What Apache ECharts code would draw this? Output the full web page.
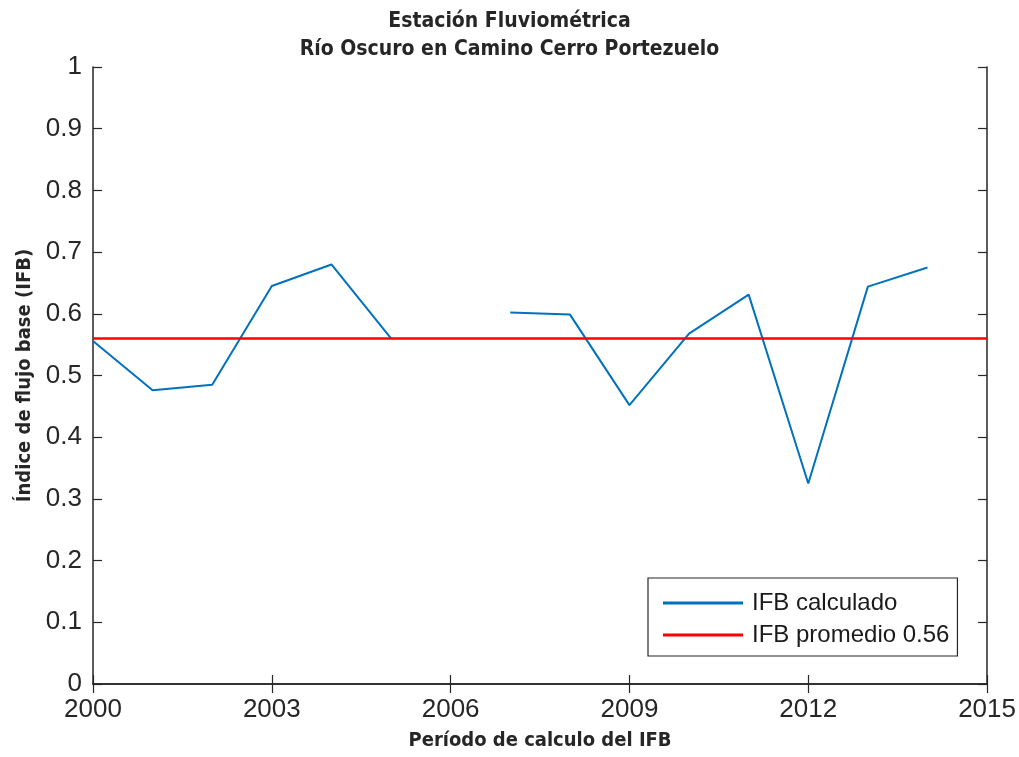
<!DOCTYPE html>
<html>
<head>
<meta charset="utf-8">
<script src="https://cdn.jsdelivr.net/npm/echarts@6/dist/echarts.min.js"></script>
<style>
  html, body { margin: 0; padding: 0; background: #fff; }
  #chart { width: 1019px; height: 757px; }
</style>
</head>
<body>
<div id="chart"></div>
<script>
  // años y valores de IFB (2006 sin dato)
  const years = [2000, 2001, 2002, 2003, 2004, 2005, 2006, 2007, 2008, 2009, 2010, 2011, 2012, 2013, 2014];
  const ifbValues = [0.556, 0.476, 0.485, 0.645, 0.680, 0.560, null, 0.602, 0.599, 0.452, 0.568, 0.631, 0.325, 0.644, 0.675];
  const ifbMean = 0.56;
  const meanRange = [2000, 2015];
  const xTicks = [2000, 2003, 2006, 2009, 2012, 2015];
  const yTicks = [0, 0.1, 0.2, 0.3, 0.4, 0.5, 0.6, 0.7, 0.8, 0.9, 1];

  const chart = echarts.init(document.getElementById('chart'));

  const axisLine = { show: true, lineStyle: { color: '#262626', width: 1.5 } };
  const tickStyle = { show: true, inside: true, length: 9, lineStyle: { color: '#262626', width: 1.2 } };
  const labelFont = { color: '#262626', fontSize: 26, fontFamily: 'Liberation Sans, Arial, sans-serif' };
  const nameFont = { color: '#262626', fontSize: 20, fontWeight: 'bold', fontFamily: 'DejaVu Sans Condensed, Open Sans, sans-serif' };

  const option = {
    animation: false,
    title: {
      text: 'Estación Fluviométrica\nRío Oscuro en Camino Cerro Portezuelo',
      left: 'center',
      top: 3,
      textStyle: { color: '#262626', fontSize: 21, fontWeight: 'bold', lineHeight: 28, fontFamily: 'DejaVu Sans Condensed, Open Sans, sans-serif' },
    },
    grid: { left: 93, right: 29, top: 67, bottom: 73 },
    legend: {
      left: 648,
      top: 578,
      orient: 'vertical',
      backgroundColor: '#fff',
      borderColor: '#262626',
      borderWidth: 1.2,
      padding: [13, 8, 9, 15],
      itemWidth: 80,
      itemHeight: 3,
      itemGap: 8,
      icon: 'rect',
      textStyle: { color: '#1a1a1a', fontSize: 24, padding: [0, 0, 0, 4], fontFamily: 'Liberation Sans, Arial, sans-serif' },
      data: ['IFB calculado', 'IFB promedio 0.56'],
    },
    xAxis: [
      {
        type: 'value',
        min: 2000,
        max: 2015,
        interval: 3,
        name: 'Período de calculo del IFB',
        nameLocation: 'middle',
        nameGap: 47,
        nameTextStyle: nameFont,
        axisLine: axisLine,
        axisTick: tickStyle,
        axisLabel: { ...labelFont, margin: 13, formatter: (v) => (xTicks.includes(v) ? String(v) : '') },
        splitLine: { show: false },
      },
      {
        type: 'value',
        position: 'top',
        min: 2000,
        max: 2015,
        interval: 3,
        axisLine: axisLine,
        axisTick: tickStyle,
        axisLabel: { show: false },
        splitLine: { show: false },
      },
    ],
    yAxis: [
      {
        type: 'value',
        min: 0,
        max: 1,
        interval: 0.1,
        name: 'Índice de flujo base (IFB)',
        nameLocation: 'middle',
        nameGap: 58,
        nameTextStyle: nameFont,
        axisLine: axisLine,
        axisTick: tickStyle,
        axisLabel: { ...labelFont, margin: 11, formatter: (v) => {
          const t = yTicks.find((y) => Math.abs(y - v) < 1e-9);
          return t === undefined ? '' : String(t);
        } },
        splitLine: { show: false },
      },
      {
        type: 'value',
        position: 'right',
        min: 0,
        max: 1,
        interval: 0.1,
        axisLine: axisLine,
        axisTick: tickStyle,
        axisLabel: { show: false },
        splitLine: { show: false },
      },
    ],
    series: [
      {
        name: 'IFB calculado',
        type: 'line',
        data: years.map((y, i) => [y, ifbValues[i]]),
        connectNulls: false,
        showSymbol: false,
        symbol: 'none',
        itemStyle: { color: '#0072BD' },
        lineStyle: { color: '#0072BD', width: 2 },
        z: 3,
      },
      {
        name: 'IFB promedio 0.56',
        type: 'line',
        data: meanRange.map((x) => [x, ifbMean]),
        showSymbol: false,
        symbol: 'none',
        itemStyle: { color: '#FF0000' },
        lineStyle: { color: '#FF0000', width: 2.5 },
        z: 4,
      },
    ],
  };

  chart.setOption(option);
</script>
</body>
</html>
